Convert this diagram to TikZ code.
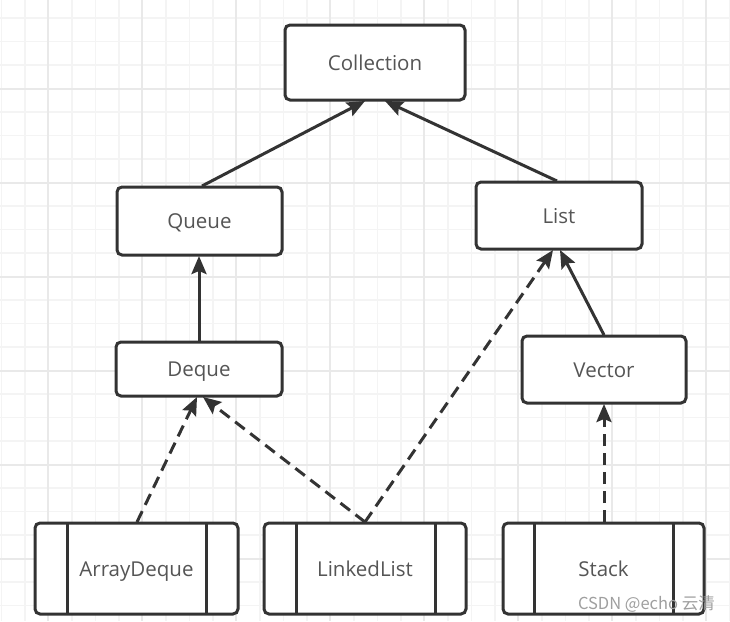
\documentclass[tikz,border=0pt]{standalone}
\usepackage{fontspec}
\setmainfont{Open Sans}
\newfontfamily\cjk{Noto Sans CJK SC}
\usetikzlibrary{arrows.meta}
\definecolor{linec}{HTML}{333333}
\definecolor{textc}{HTML}{555555}
\definecolor{gridminor}{HTML}{F4F4F4}
\definecolor{gridmajor}{HTML}{E9E9E9}
\begin{document}
\begin{tikzpicture}[x=1pt,y=-1pt,
  box/.style={draw=linec,line width=3pt,rounded corners=5pt,fill=white,text=textc,font=\fontsize{20.5}{22}\selectfont,text height=19pt,text depth=4pt},
  inner/.style={draw=linec,line width=3pt},
  conn/.style={draw=linec,line width=3pt,-{Stealth[length=18pt,width=15pt,inset=3pt]}},
  dashconn/.style={conn,dash pattern=on 12pt off 7pt},
  wm/.style={text=gray!75,font=\cjk\fontsize{16.5}{18}\selectfont,anchor=south east,inner sep=0pt}
]
\useasboundingbox (0,0) rectangle (730,621);
\fill[white] (0,0) rectangle (730,621);
% grid
\foreach \i in {0,...,31} {\draw[gridminor,line width=1.5pt] ({1.5+23.5*\i},0) -- ({1.5+23.5*\i},621);}
\foreach \i in {0,...,26} {\draw[gridminor,line width=1.5pt] (0,{18+23.5*(\i-1)}) -- (730,{18+23.5*(\i-1)});}
\foreach \i in {0,...,7} {\draw[gridmajor,line width=1.5pt] ({48+94*\i},0) -- ({48+94*\i},621);}
\foreach \i in {0,...,6} {\draw[gridmajor,line width=1.5pt] (0,{-5+94*\i}) -- (730,{-5+94*\i});}
% boxes
\draw[box] (285,25) rectangle (465,100) node[midway] (collection) {Collection};
\draw[box] (117,187) rectangle (282,255) node[midway] (queue) {Queue};
\draw[box] (476,182) rectangle (642,249) node[midway] (list) {List};
\draw[box] (116,342) rectangle (282,396) node[midway] (deque) {Deque};
\draw[box] (522,336) rectangle (686,403) node[midway] (vector) {Vector};
\draw[box] (35,523) rectangle (238,614) node[midway] (arraydeque) {ArrayDeque};
\draw[inner] (67,523) -- (67,614) (206,523) -- (206,614);
\draw[box] (264,523) rectangle (466,614) node[midway] (linkedlist) {LinkedList};
\draw[inner] (296,523) -- (296,614) (435,523) -- (435,614);
\draw[box] (503,523) rectangle (704,614) node[midway] (stack) {Stack};
\draw[inner] (534,523) -- (534,614) (673,523) -- (673,614);
% anchor coordinates
\coordinate (colA) at (365,101);
\coordinate (colB) at (385,101);
\coordinate (qT) at (202,186);
\coordinate (qB) at (199,256);
\coordinate (lT) at (557,181);
\coordinate (lA) at (553,250);
\coordinate (lB) at (560,250);
\coordinate (dT) at (199,341);
\coordinate (dA) at (197,397);
\coordinate (dB) at (203,397);
\coordinate (vT) at (604,335);
\coordinate (vB) at (604,404);
\coordinate (adT) at (137,522);
\coordinate (llT) at (365,522);
\coordinate (stT) at (604,522);
% connectors
\draw[conn] (qT) -- (colA);
\draw[conn] (lT) -- (colB);
\draw[conn] (dT) -- (qB);
\draw[conn] (vT) -- (lB);
\draw[dashconn] (adT) -- (dA);
\draw[dashconn] (llT) -- (dB);
\draw[dashconn] (llT) -- (lA);
\draw[dashconn] (stT) -- (vB);
% watermark
\node[wm] (wmark) at (715,613) {CSDN @echo 云清};
\end{tikzpicture}
\end{document}
